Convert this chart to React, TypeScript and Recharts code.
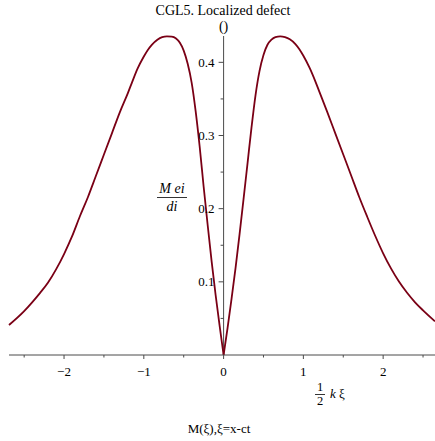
import React from "react";
import { LineChart, Line, XAxis, YAxis, ReferenceLine } from "recharts";

// ξ values ("1/2 k ξ") and M values, left branch
const LEFT_XI = [
  -2.69, -2.5, -2.4, -2.3, -2.2, -2.1, -2.0, -1.9, -1.8, -1.7, -1.6, -1.5, -1.4, -1.3, -1.2,
  -1.15, -1.08, -1.0, -0.95, -0.9, -0.83, -0.77, -0.71, -0.65, -0.6, -0.55, -0.5, -0.45, -0.4,
  -0.35, -0.3, -0.25, -0.2, -0.15, -0.1, -0.05, 0,
];
const LEFT_M = [
  0.041, 0.06, 0.072, 0.085, 0.099, 0.117, 0.138, 0.162, 0.19, 0.216, 0.245, 0.274, 0.303, 0.332,
  0.358, 0.372, 0.391, 0.408, 0.417, 0.424, 0.431, 0.4345, 0.4356, 0.4352, 0.433, 0.427, 0.416,
  0.398, 0.372, 0.333, 0.285, 0.23, 0.178, 0.128, 0.082, 0.04, 0,
];

// right branch
const RIGHT_XI = [
  0, 0.05, 0.1, 0.15, 0.2, 0.25, 0.3, 0.35, 0.4, 0.45, 0.5, 0.55, 0.6, 0.65, 0.71, 0.77, 0.83,
  0.9, 0.95, 1.0, 1.08, 1.15, 1.2, 1.3, 1.4, 1.5, 1.6, 1.7, 1.8, 1.9, 2.0, 2.1, 2.2, 2.3, 2.4,
  2.5, 2.65,
];
const RIGHT_M = [
  0, 0.037, 0.077, 0.119, 0.165, 0.213, 0.262, 0.311, 0.355, 0.388, 0.41, 0.424, 0.431, 0.4345,
  0.4356, 0.4345, 0.4315, 0.425, 0.418, 0.409, 0.392, 0.374, 0.36, 0.332, 0.303, 0.274, 0.245,
  0.216, 0.189, 0.163, 0.139, 0.118, 0.1, 0.085, 0.072, 0.061, 0.046,
];

const X_TICKS = [-2.5, -2, -1.5, -1, -0.5, 0, 0.5, 1, 1.5, 2, 2.5];
const Y_TICKS = [0.05, 0.1, 0.15, 0.2, 0.25, 0.3, 0.35, 0.4];
const X_DOMAIN: [number, number] = [-2.69, 2.65];
const Y_DOMAIN: [number, number] = [0, 0.436];

const TITLE = "CGL5. Localized defect";
const CAPTION = "M(ξ),ξ=x-ct";

const W = 435;
const H = 441;
const MARGIN = { top: 36, right: 0, left: 8, bottom: 56 };
const Y_AXIS_W = 1;
const X_AXIS_H = 30;
const PLOT_LEFT = MARGIN.left + Y_AXIS_W;
const PLOT_W = W - PLOT_LEFT - MARGIN.right;
const ZERO_OFFSET = (PLOT_W * (0 - X_DOMAIN[0])) / (X_DOMAIN[1] - X_DOMAIN[0]);

const FONT = "'Liberation Serif', 'Times New Roman', serif";
const AXIS = "#4a4a4a";
const CURVE = "#7a0015";

const leftData = LEFT_XI.map((x, i) => ({ xi: x, m: LEFT_M[i] }));
const rightData = RIGHT_XI.map((x, i) => ({ xi: x, m: RIGHT_M[i] }));

const isMajor = (v: number) => Math.abs(v - Math.round(v)) < 1e-9;
const isMajorY = (v: number) => Math.abs(v * 10 - Math.round(v * 10)) < 1e-9;
const fmt = (v: number) => (v < 0 ? "\u2212" + Math.abs(v) : String(v));

const XTick = (props: any) => {
  const { x, y, payload } = props;
  const v = payload.value as number;
  const major = isMajor(v);
  return (
    <g>
      <line x1={x} x2={x} y1={y} y2={y + (major ? 4 : 2.5)} stroke={AXIS} strokeWidth={1} />
      {major && (
        <text x={x} y={y + 21} textAnchor="middle" fontFamily={FONT} fontSize={13} fill="#000">
          {fmt(v)}
        </text>
      )}
    </g>
  );
};

const YTick = (props: any) => {
  const { x, y, payload } = props;
  const v = payload.value as number;
  const major = isMajorY(v);
  const ax = x + ZERO_OFFSET;
  return (
    <g>
      <line x1={ax - (major ? 5 : 3)} x2={ax} y1={y} y2={y} stroke={AXIS} strokeWidth={1} />
      {major && (
        <text x={ax - 9} y={y + 4.5} textAnchor="end" fontFamily={FONT} fontSize={13} fill="#000">
          {String(v)}
        </text>
      )}
    </g>
  );
};

export default function App() {
  return (
    <div style={{ position: "absolute", left: 0, top: 0, width: W, height: H, background: "#fff" }}>
      <LineChart width={W} height={H} margin={MARGIN}>
        <XAxis
          dataKey="xi"
          type="number"
          domain={X_DOMAIN}
          ticks={X_TICKS}
          interval={0}
          height={X_AXIS_H}
          tickSize={0}
          tickMargin={0}
          tickLine={false}
          axisLine={{ stroke: AXIS, strokeWidth: 1 }}
          tick={<XTick />}
        />
        <YAxis
          type="number"
          domain={Y_DOMAIN}
          ticks={Y_TICKS}
          interval={0}
          width={Y_AXIS_W}
          tickSize={0}
          tickMargin={0}
          tickLine={false}
          axisLine={false}
          tick={<YTick />}
        />
        <ReferenceLine
          x={0}
          stroke={AXIS}
          strokeWidth={1}
          label={{ value: "()", position: "top", offset: 5, fontFamily: FONT, fontSize: 14, fill: "#000" }}
        />
        <Line
          data={leftData}
          type="monotone"
          dataKey="m"
          stroke={CURVE}
          strokeWidth={1.8}
          dot={false}
          isAnimationActive={false}
        />
        <Line
          data={rightData}
          type="monotone"
          dataKey="m"
          stroke={CURVE}
          strokeWidth={1.8}
          dot={false}
          isAnimationActive={false}
        />
      </LineChart>
      <svg
        width={W}
        height={H}
        style={{ position: "absolute", left: 0, top: 0, pointerEvents: "none" }}
        fontFamily={FONT}
      >
        <text x={223} y={15} textAnchor="middle" fontSize={14} fill="#000">
          {TITLE}
        </text>
        <text x={172} y={193} textAnchor="middle" fontSize={14} fontStyle="italic" fill="#000">
          M ei
        </text>
        <line x1={157} x2={187} y1={197.5} y2={197.5} stroke="#000" strokeWidth={0.8} />
        <text x={172} y={211} textAnchor="middle" fontSize={14} fontStyle="italic" fill="#000">
          di
        </text>
        <text x={320} y={391} textAnchor="middle" fontSize={12.5} fill="#000">
          1
        </text>
        <line x1={315} x2={325} y1={394.5} y2={394.5} stroke="#000" strokeWidth={0.8} />
        <text x={320} y={405} textAnchor="middle" fontSize={12.5} fill="#000">
          2
        </text>
        <text x={330} y={398} textAnchor="start" fontSize={13} fill="#000">
          <tspan fontStyle="italic">k</tspan> ξ
        </text>
        <text x={219} y={433} textAnchor="middle" fontSize={13} fill="#000">
          {CAPTION}
        </text>
      </svg>
    </div>
  );
}
